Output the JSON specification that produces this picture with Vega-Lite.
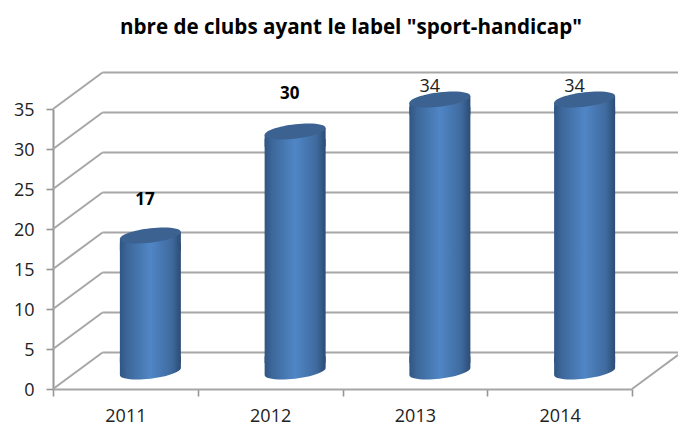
{
"$schema":"https://vega.github.io/schema/vega-lite/v6.json",
"width":579,"height":280,
"autosize":"none",
"padding":{"left":53,"top":109,"right":46,"bottom":36},
"background":"white",
"title":{"text":"nbre de clubs ayant le label \"sport-handicap\"","font":"Open Sans","fontSize":20.6,"fontWeight":"bold","color":"#000000","anchor":"middle","dx":8.5,"offset":33},
"config":{"view":{"stroke":null},"font":"Open Sans"},
"datasets":{
"grid":[{"v":0},{"v":5},{"v":10},{"v":15},{"v":20},{"v":25},{"v":30},{"v":35}],
"clubs":[{"year":2011,"clubs":17},{"year":2012,"clubs":30},{"year":2013,"clubs":34},{"year":2014,"clubs":34}],
"edge":[{"year":2014.5,"v":0}]
},
"resolve":{"axis":{"x":"independent","y":"independent"}},
"layer":[
{"data":{"name":"grid"},
"mark":{"type":"rule","color":"#a6a6a6","strokeWidth":2,"xOffset":49.5,"x2Offset":49.5,"yOffset":-36.5},
"encoding":{
"x":{"datum":2010.5,"type":"quantitative","scale":{"domain":[2010.5,2014.5],"nice":false,"zero":false,"padding":0},
"axis":{"orient":"bottom","values":[2010.5,2011.5,2012.5,2013.5,2014.5],"labels":false,"title":null,"grid":false,"domain":true,"domainColor":"#a6a6a6","domainWidth":2,"tickColor":"#969696","tickWidth":1.6,"tickSize":7}},
"x2":{"datum":2014.5},
"y":{"field":"v","type":"quantitative","scale":{"domain":[0,35],"nice":false},
"axis":{"orient":"left","values":[0,5,10,15,20,25,30,35],"title":null,"grid":false,"domainColor":"#969696","domainWidth":2,"tickColor":"#969696","tickWidth":1.6,"tickSize":7,"labelFontSize":18,"labelFont":"Open Sans","labelColor":"#222222","labelPadding":12,"labelOffset":1.5}}
}},
{"data":{"name":"grid"},
"mark":{"type":"rule","color":"#a6a6a6","strokeWidth":2,"x2Offset":49.5,"y2Offset":-36.5},
"encoding":{
"x":{"datum":2010.5,"type":"quantitative","axis":null},
"x2":{"datum":2010.5},
"y":{"field":"v","type":"quantitative","axis":null},
"y2":{"field":"v"}
}},
{"data":{"name":"edge"},
"mark":{"type":"rule","color":"#a6a6a6","strokeWidth":2,"x2Offset":49.5,"y2Offset":-36.5},
"encoding":{
"x":{"field":"year","type":"quantitative","axis":null},
"x2":{"field":"year"},
"y":{"field":"v","type":"quantitative","axis":null},
"y2":{"field":"v"}
}},
{"data":{"name":"clubs"},
"mark":{"type":"bar","orient":"vertical","size":61,"xOffset":25,"yOffset":-10,"y2Offset":-26,
"fill":{"x1":0,"y1":0,"x2":1,"y2":0,"gradient":"linear","stops":[{"offset":0,"color":"#2f5583"},{"offset":0.12,"color":"#3c6799"},{"offset":0.5,"color":"#5086c6"},{"offset":0.85,"color":"#3f6a9e"},{"offset":1,"color":"#2c4c74"}]}},
"encoding":{
"x":{"field":"year","type":"quantitative","axis":null},
"y":{"field":"clubs","type":"quantitative","axis":null},
"y2":{"datum":0}
}},
{"data":{"name":"clubs"},
"mark":{"type":"point","filled":true,"opacity":1,"size":3721,"xOffset":25,"yOffset":-17.5,
"shape":"M-1,-0.5L1,-0.5L1,-0.115C1,0.015,0.5523,0.1715,0,0.235C-0.5523,0.2985,-1,0.245,-1,0.115Z",
"fill":{"x1":0,"y1":0,"x2":1,"y2":0,"gradient":"linear","stops":[{"offset":0,"color":"#2f5583"},{"offset":0.12,"color":"#3c6799"},{"offset":0.5,"color":"#5086c6"},{"offset":0.85,"color":"#3f6a9e"},{"offset":1,"color":"#2c4c74"}]}},
"encoding":{
"x":{"field":"year","type":"quantitative","axis":null},
"y":{"datum":0,"type":"quantitative","axis":null}
}},
{"data":{"name":"clubs"},
"mark":{"type":"point","filled":true,"opacity":1,"size":3721,"xOffset":25,"yOffset":-17.5,
"shape":"M-1,0.5L-1,0.115L1,-0.115L1,0.5Z",
"fill":{"x1":0,"y1":0,"x2":1,"y2":0,"gradient":"linear","stops":[{"offset":0,"color":"#2f5583"},{"offset":0.12,"color":"#3c6799"},{"offset":0.5,"color":"#5086c6"},{"offset":0.85,"color":"#3f6a9e"},{"offset":1,"color":"#2c4c74"}]}},
"encoding":{
"x":{"field":"year","type":"quantitative","axis":null},
"y":{"field":"clubs","type":"quantitative","axis":null}
}},
{"data":{"name":"clubs"},
"mark":{"type":"point","filled":true,"opacity":1,"size":3721,"xOffset":25,"yOffset":-17.5,"color":"#3b6291",
"shape":"M-1,0.115C-1,-0.015,-0.5523,-0.1715,0,-0.235C0.5523,-0.2985,1,-0.245,1,-0.115C1,0.015,0.5523,0.1715,0,0.235C-0.5523,0.2985,-1,0.245,-1,0.115Z"},
"encoding":{
"x":{"field":"year","type":"quantitative","axis":{"orient":"bottom","values":[2011,2012,2013,2014],"format":"d","ticks":false,"domain":false,"grid":false,"title":null,"labelFontSize":18,"labelFont":"Open Sans","labelColor":"#222222","labelPadding":18}},
"y":{"field":"clubs","type":"quantitative","axis":null}
}},
{"data":{"name":"clubs"},
"transform":[{"filter":"datum.year == 2011"}],
"mark":{"type":"text","font":"Open Sans","fontSize":17,"fontWeight":"bold","color":"#000000","xOffset":19.5,"yOffset":-53.5},
"encoding":{
"x":{"field":"year","type":"quantitative","axis":null},
"y":{"field":"clubs","type":"quantitative","axis":null},
"text":{"field":"clubs","type":"quantitative"}
}},
{"data":{"name":"clubs"},
"transform":[{"filter":"datum.year == 2012"}],
"mark":{"type":"text","font":"Open Sans","fontSize":17,"fontWeight":"bold","color":"#000000","xOffset":19.5,"yOffset":-55.5},
"encoding":{
"x":{"field":"year","type":"quantitative","axis":null},
"y":{"field":"clubs","type":"quantitative","axis":null},
"text":{"field":"clubs","type":"quantitative"}
}},
{"data":{"name":"clubs"},
"transform":[{"filter":"datum.year >= 2013"}],
"mark":{"type":"text","font":"Open Sans","fontSize":18,"color":"#222222","xOffset":15,"yOffset":-30.5},
"encoding":{
"x":{"field":"year","type":"quantitative","axis":null},
"y":{"field":"clubs","type":"quantitative","axis":null},
"text":{"field":"clubs","type":"quantitative"}
}}
]
}
